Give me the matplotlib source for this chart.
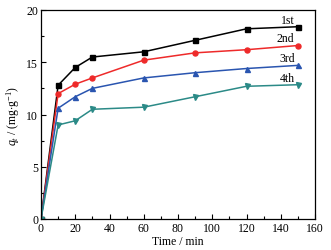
# Adsorption kinetics over four cycles
import matplotlib
matplotlib.use("Agg")
import matplotlib.pyplot as plt
from matplotlib.ticker import MultipleLocator

# DATA
###################################
time_min = [0, 10, 20, 30, 60, 90, 120, 150]
q_1st = [0, 12.8, 14.5, 15.5, 16.0, 17.1, 18.2, 18.4]
q_2nd = [0, 12.0, 12.9, 13.5, 15.2, 15.9, 16.2, 16.6]
q_3rd = [0, 10.6, 11.7, 12.5, 13.5, 14.0, 14.4, 14.7]
q_4th = [0, 9.0, 9.4, 10.5, 10.7, 11.7, 12.7, 12.85]
labels = ["1st", "2nd", "3rd", "4th"]

# STYLE
###################################
plt.rcParams["font.family"] = ["Liberation Serif", "DejaVu Serif"]
plt.rcParams["mathtext.fontset"] = "custom"
plt.rcParams["mathtext.rm"] = "Liberation Serif"
plt.rcParams["mathtext.it"] = "Liberation Serif:italic"
FS = 8.5

series = [q_1st, q_2nd, q_3rd, q_4th]
colors = ["#000000", "#ee2a2a", "#2a55b0", "#2b8a87"]
markers = ["s", "o", "^", "v"]

fig = plt.figure(figsize=(3.31, 2.51), dpi=100)
ax = fig.add_axes([41 / 331, 31 / 251, 274 / 331, 209 / 251])

for q, c, m, lab in zip(series, colors, markers, labels):
    ax.plot(time_min, q, color=c, marker=m, markersize=3.6, linewidth=1.1)
    ax.text(time_min[-1] - 2, q[-1] + 0.1, lab, ha="right", va="bottom",
            fontsize=FS)

ax.set_xlim(0, 160)
ax.set_ylim(0, 20)
ax.xaxis.set_major_locator(MultipleLocator(20))
ax.xaxis.set_minor_locator(MultipleLocator(10))
ax.yaxis.set_major_locator(MultipleLocator(5))
ax.yaxis.set_minor_locator(MultipleLocator(2.5))
ax.tick_params(which="both", direction="in", top=False, right=False,
               labelsize=FS, pad=2)
ax.tick_params(which="major", length=3.5, width=0.8)
ax.tick_params(which="minor", length=2, width=0.8)
for s in ax.spines.values():
    s.set_linewidth(0.9)

ax.set_xlabel("Time / min", fontsize=FS, labelpad=1)
ax.set_ylabel(r"$q_t$ / (mg$\cdot$g$^{-1}$)", fontsize=FS, labelpad=3)

fig.savefig("out.png", dpi=100)
